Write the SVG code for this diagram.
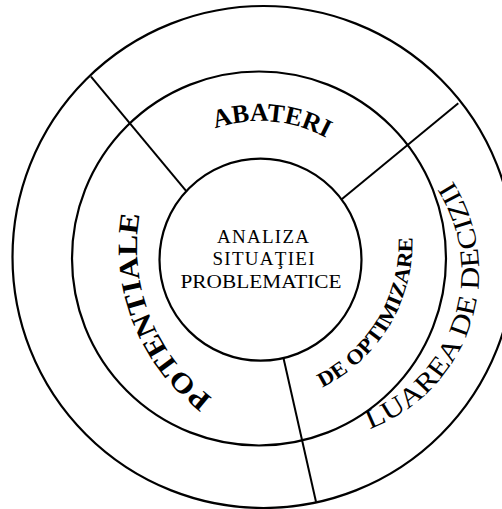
<svg xmlns="http://www.w3.org/2000/svg" width="502" height="509" viewBox="0 0 502 509">
<style>
.ring{fill:none;stroke:#000;stroke-width:2.2}
.sep{stroke:#000;stroke-width:2}
.c{font-family:"Liberation Serif","Times New Roman",serif;font-size:19px;fill:#000;text-anchor:middle}
.b{font-family:"Liberation Serif","Times New Roman",serif;font-weight:bold;fill:#000}
.r{font-family:"Liberation Serif","Times New Roman",serif;fill:#000}
</style>
<defs>
<path id="pAb" d="M122,259 A138,138 0 0 1 398,259"/>
<path id="pPo" d="M261.4,424.6 A189,189 0 0 1 148.4,182.4"/>
<path id="pOp" d="M305.6,394.7 A162.5,162.5 0 0 0 402.7,186.4"/>
<path id="pLu" d="M354.5,433.8 A168,168 0 0 0 439.7,163.5"/>
</defs>
<rect width="502" height="509" fill="#fff"/>
<g id="outer"><circle class="ring" cx="263.5" cy="257" r="251"/></g>
<g id="middle"><circle class="ring" cx="259" cy="258.5" r="187"/></g>
<g id="connectors">
<line class="sep" x1="91" y1="76.7" x2="186.7" y2="191.7"/>
<line class="sep" x1="458.3" y1="103.3" x2="341.7" y2="199.3"/>
<line class="sep" x1="283.3" y1="357.3" x2="316" y2="501.7"/>
</g>
<g id="center">
<circle cx="260.5" cy="259.7" r="101" fill="#fff" class="ring"/>
<text class="c" x="263" y="243.3" textLength="92" lengthAdjust="spacing">ANALIZA</text>
<text class="c" x="263.5" y="265" textLength="102" lengthAdjust="spacing">SITUAŢIEI</text>
<text class="c" x="261" y="288.3" textLength="161" lengthAdjust="spacingAndGlyphs">PROBLEMATICE</text>
</g>
<g id="abateri"><text class="b" font-size="26"><textPath href="#pAb" startOffset="171" textLength="115" lengthAdjust="spacingAndGlyphs">ABATERI</textPath></text></g>
<g id="potentiale"><text class="b" font-size="28"><textPath href="#pPo" startOffset="56" textLength="208" lengthAdjust="spacingAndGlyphs">POTENTIALE</textPath></text></g>
<g id="optimizare"><text class="b" font-size="21"><textPath href="#pOp" startOffset="18" textLength="185" lengthAdjust="spacingAndGlyphs">DE OPTIMIZARE</textPath></text></g>
<g id="decizii"><text class="r" font-size="27"><textPath href="#pLu" startOffset="16" textLength="300" lengthAdjust="spacingAndGlyphs">LUAREA DE DECIZII</textPath></text></g>
</svg>
